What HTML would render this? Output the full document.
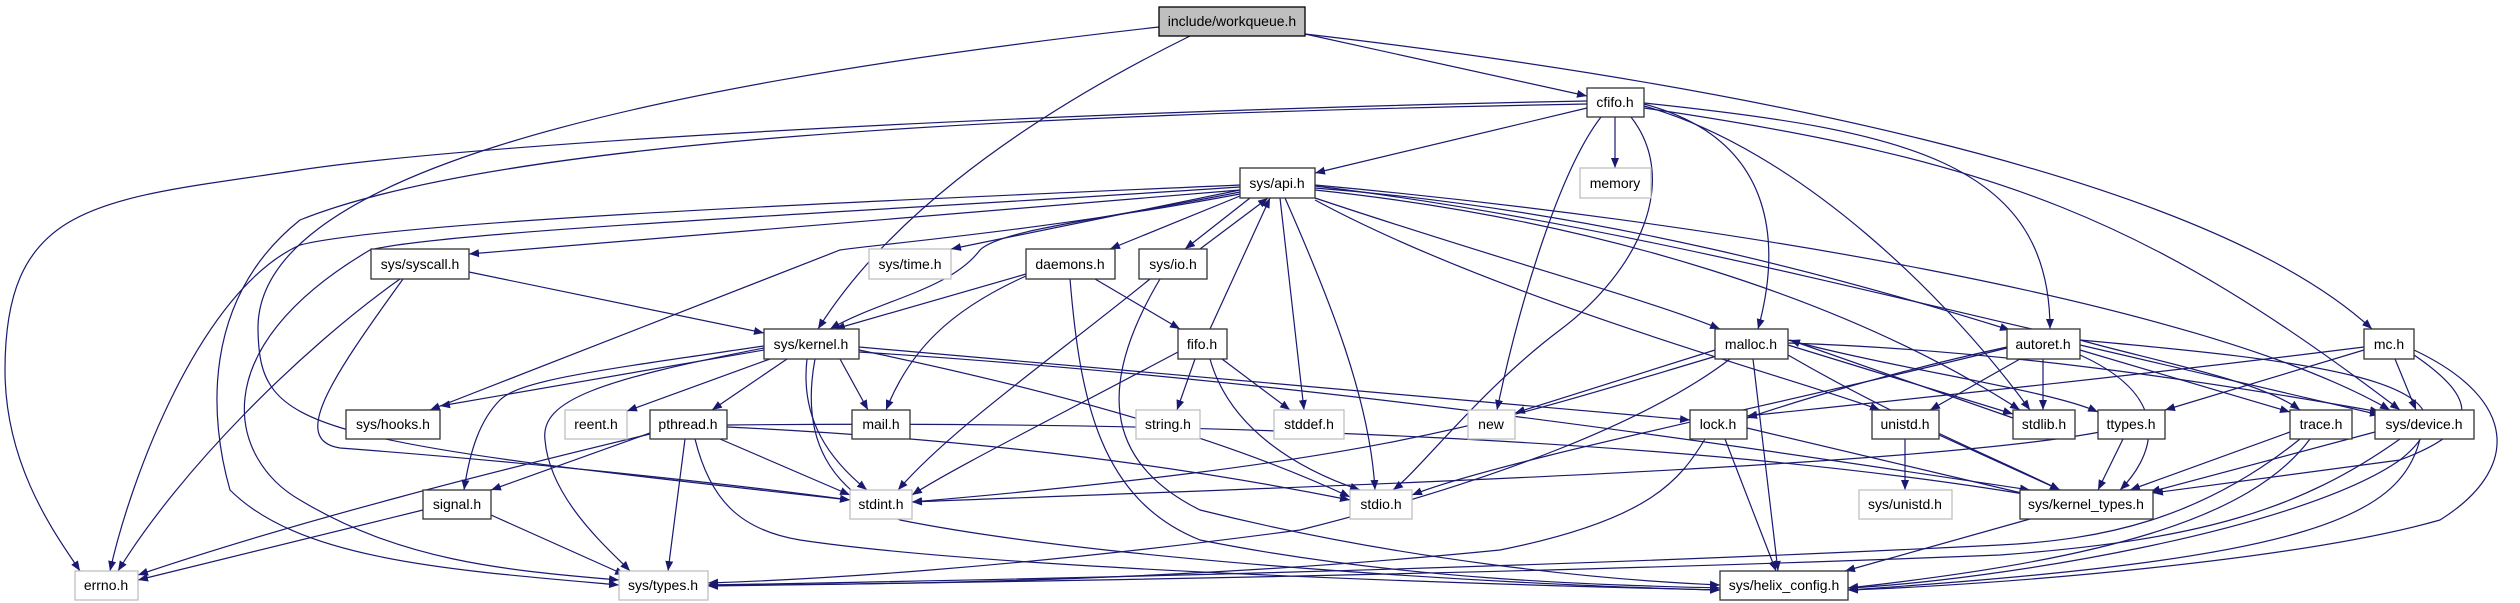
<!DOCTYPE html>
<html><head><meta charset="utf-8"><style>
html,body{margin:0;padding:0;background:#fff;}
svg{display:block;}
text{font-family:"Liberation Sans",sans-serif;font-size:14px;fill:#000;text-anchor:middle;}
.e{fill:none;stroke:#191970;stroke-width:1.2;marker-end:url(#a);}
.n{fill:#fff;stroke:#333;stroke-width:1.3;}
.g{fill:#fff;stroke:#bfbfbf;stroke-width:1.3;}
</style></head><body>
<svg width="2520" height="603" viewBox="0 0 2520 603" xmlns="http://www.w3.org/2000/svg">
<defs><marker id="a" viewBox="0 0 10 10" refX="10" refY="5" markerWidth="10" markerHeight="10" markerUnits="userSpaceOnUse" orient="auto"><path d="M0,1 L10,5 L0,9 z" fill="#191970"/></marker></defs>
<g>
<path class="e" d="M1305,34 L1587,96"/>
<path class="e" d="M1305,34 C1700,80 2200,170 2372,329"/>
<path class="e" d="M1190,36 C1000,130 880,230 818,329"/>
<path class="e" d="M1159,27 C600,90 255,180 258,330 C260,430 300,440 850,500"/>
<path class="e" d="M1587,101 C1100,110 500,140 300,170 C100,200 5,200 5,370 C5,470 60,540 80,571"/>
<path class="e" d="M1587,104 C1000,115 500,140 300,220 C200,300 210,420 230,490 C300,560 450,570 619,585"/>
<path class="e" d="M1587,108 L1315,173"/>
<path class="e" d="M1615,117 L1615,168"/>
<path class="e" d="M1601,117 C1560,170 1520,300 1497,410"/>
<path class="e" d="M1631,117 C1680,180 1640,270 1560,330 C1480,390 1420,470 1393,490"/>
<path class="e" d="M1644,104 C1780,140 1780,250 1758,329"/>
<path class="e" d="M1644,106 C1800,150 1950,300 2030,410"/>
<path class="e" d="M1644,103 C1900,130 2050,160 2050,329"/>
<path class="e" d="M1644,108 C2000,160 2150,220 2400,410"/>
<path class="e" d="M1240,190 L469,254"/>
<path class="e" d="M1240,190 L951,249"/>
<path class="e" d="M1240,196 L1110,249"/>
<path class="e" d="M1250,198 L1185,249"/>
<path class="e" d="M1200,249 L1268,198"/>
<path class="e" d="M1240,192 C1100,220 1000,230 980,250 C950,290 880,300 830,329"/>
<path class="e" d="M1240,194 C1050,230 870,245 840,250 L430,410"/>
<path class="e" d="M1240,185 C900,200 400,220 300,245 C200,290 130,480 110,571"/>
<path class="e" d="M1240,187 C900,210 450,230 370,250 C200,350 230,460 300,500 C400,560 500,570 619,580"/>
<path class="e" d="M1280,198 L1304,410"/>
<path class="e" d="M1285,198 C1330,300 1370,400 1375,490"/>
<path class="e" d="M1315,198 C1500,260 1650,300 1720,329"/>
<path class="e" d="M1315,200 C1500,300 1800,380 1880,410"/>
<path class="e" d="M1315,190 C1600,220 1850,300 2020,410"/>
<path class="e" d="M1315,188 C1600,210 1850,280 2010,330"/>
<path class="e" d="M1315,185 C1700,220 2200,300 2390,410"/>
<path class="e" d="M1315,186 C1600,220 1900,300 2080,340 C2150,360 2260,380 2300,410"/>
<path class="e" d="M469,272 L764,333"/>
<path class="e" d="M400,279 C300,350 180,470 118,571"/>
<path class="e" d="M403,279 C330,380 290,440 340,448 C500,460 700,480 850,500"/>
<path class="e" d="M1026,274 L835,329"/>
<path class="e" d="M1026,276 C950,310 910,350 886,410"/>
<path class="e" d="M1095,279 L1180,329"/>
<path class="e" d="M1070,279 C1080,400 1100,500 1200,540 C1400,580 1600,585 1720,588"/>
<path class="e" d="M1150,279 C1050,360 950,430 898,490"/>
<path class="e" d="M1160,279 C1100,380 1100,460 1200,510 C1400,560 1600,580 1720,585"/>
<path class="e" d="M1210,329 L1270,198"/>
<path class="e" d="M1195,359 L1177,410"/>
<path class="e" d="M1222,359 L1290,410"/>
<path class="e" d="M1210,359 C1230,430 1300,470 1360,490"/>
<path class="e" d="M1178,352 C1050,420 950,470 912,495"/>
<path class="e" d="M764,350 L440,406"/>
<path class="e" d="M770,359 L627,411"/>
<path class="e" d="M787,359 L712,410"/>
<path class="e" d="M840,359 L868,410"/>
<path class="e" d="M807,359 C800,420 830,460 867,490"/>
<path class="e" d="M764,346 C600,370 520,380 500,400 C480,420 470,450 464,490"/>
<path class="e" d="M764,348 C600,380 540,400 545,440 C550,500 610,550 630,571"/>
<path class="e" d="M815,359 C800,440 830,490 900,520 C1100,560 1500,585 1720,590"/>
<path class="e" d="M859,347 L1690,420"/>
<path class="e" d="M859,352 C1300,380 1700,440 2030,490"/>
<path class="e" d="M859,350 C1100,400 1250,450 1350,497"/>
<path class="e" d="M650,433 L491,490"/>
<path class="e" d="M650,434 C500,470 300,520 138,575"/>
<path class="e" d="M685,439 L668,571"/>
<path class="e" d="M720,439 L850,495"/>
<path class="e" d="M727,427 C1000,440 1200,470 1350,500"/>
<path class="e" d="M727,425 C1200,420 1700,440 2030,495"/>
<path class="e" d="M695,439 C710,500 740,530 800,540 C1000,570 1500,585 1720,590"/>
<path class="e" d="M423,510 L138,580"/>
<path class="e" d="M491,515 L625,575"/>
<path class="e" d="M1715,350 L1515,413"/>
<path class="e" d="M1720,355 C1500,420 1400,460 912,502"/>
<path class="e" d="M1730,359 C1650,420 1500,480 1300,530 C1000,570 800,580 708,583"/>
<path class="e" d="M1753,359 L1778,571"/>
<path class="e" d="M1788,345 L2013,414"/>
<path class="e" d="M2013,418 L1790,340"/>
<path class="e" d="M1788,355 C1900,420 2000,460 2060,490"/>
<path class="e" d="M1788,340 C1900,370 2050,390 2098,412"/>
<path class="e" d="M1788,343 C2000,350 2200,380 2380,412"/>
<path class="e" d="M2043,359 L2043,410"/>
<path class="e" d="M2020,359 L1930,410"/>
<path class="e" d="M2007,348 C1800,400 1500,460 1412,495"/>
<path class="e" d="M2007,347 C1900,370 1800,400 1747,418"/>
<path class="e" d="M2080,355 C2180,400 2150,460 2120,490"/>
<path class="e" d="M2080,345 L2380,415"/>
<path class="e" d="M2080,350 L2290,412"/>
<path class="e" d="M2080,340 C2300,360 2500,380 2400,460 C2300,530 2000,580 1848,588"/>
<path class="e" d="M2364,347 C2100,380 1900,400 1747,416"/>
<path class="e" d="M2364,350 L2165,410"/>
<path class="e" d="M2395,359 L2416,410"/>
<path class="e" d="M2414,355 C2480,400 2480,430 2400,460 L2153,493"/>
<path class="e" d="M2414,350 C2520,400 2520,470 2440,520 C2300,560 2000,585 1848,590"/>
<path class="e" d="M2123,439 L2098,490"/>
<path class="e" d="M2100,432 C1900,470 1200,490 912,502"/>
<path class="e" d="M1905,439 L1905,490"/>
<path class="e" d="M1939,435 L2060,490"/>
<path class="e" d="M1747,428 L2030,495"/>
<path class="e" d="M1725,439 L1776,571"/>
<path class="e" d="M1705,439 C1680,480 1650,520 1500,550 C1200,580 900,585 708,585"/>
<path class="e" d="M2290,432 L2130,490"/>
<path class="e" d="M2300,439 C2200,520 2100,540 2000,545 C1500,570 1000,580 708,585"/>
<path class="e" d="M2310,439 C2250,520 2100,560 1848,588"/>
<path class="e" d="M2375,432 L2150,492"/>
<path class="e" d="M2400,439 C2300,510 2200,540 2000,555 C1500,575 1000,582 708,586"/>
<path class="e" d="M2420,439 C2400,520 2300,560 1848,590"/>
<path class="e" d="M2030,519 L1845,571"/>
</g>
<g>
<rect x="1159" y="7" width="146" height="29" fill="#bfbfbf" stroke="#000" stroke-width="1.3"/><text x="1232" y="26">include/workqueue.h</text>
<rect class="n" x="1587" y="88" width="57" height="29"/><text x="1615" y="107">cfifo.h</text>
<rect class="n" x="1240" y="168" width="75" height="30"/><text x="1277" y="188">sys/api.h</text>
<rect class="g" x="1580" y="168" width="71" height="30"/><text x="1615" y="188">memory</text>
<rect class="n" x="371" y="249" width="98" height="30"/><text x="420" y="269">sys/syscall.h</text>
<rect class="g" x="869" y="249" width="82" height="30"/><text x="910" y="269">sys/time.h</text>
<rect class="n" x="1026" y="249" width="89" height="30"/><text x="1070" y="269">daemons.h</text>
<rect class="n" x="1139" y="249" width="68" height="30"/><text x="1173" y="269">sys/io.h</text>
<rect class="n" x="764" y="329" width="95" height="30"/><text x="811" y="349">sys/kernel.h</text>
<rect class="n" x="1178" y="329" width="49" height="30"/><text x="1202" y="349">fifo.h</text>
<rect class="n" x="1715" y="329" width="73" height="30"/><text x="1751" y="349">malloc.h</text>
<rect class="n" x="2007" y="329" width="73" height="30"/><text x="2043" y="349">autoret.h</text>
<rect class="n" x="2364" y="329" width="50" height="30"/><text x="2389" y="349">mc.h</text>
<rect class="n" x="346" y="410" width="94" height="29"/><text x="393" y="429">sys/hooks.h</text>
<rect class="g" x="565" y="410" width="62" height="29"/><text x="596" y="429">reent.h</text>
<rect class="n" x="650" y="410" width="77" height="29"/><text x="688" y="429">pthread.h</text>
<rect class="n" x="852" y="410" width="58" height="29"/><text x="881" y="429">mail.h</text>
<rect class="g" x="1136" y="410" width="64" height="29"/><text x="1168" y="429">string.h</text>
<rect class="g" x="1274" y="410" width="70" height="29"/><text x="1309" y="429">stddef.h</text>
<rect class="g" x="1468" y="410" width="47" height="29"/><text x="1491" y="429">new</text>
<rect class="n" x="1690" y="410" width="57" height="29"/><text x="1718" y="429">lock.h</text>
<rect class="n" x="1872" y="410" width="67" height="29"/><text x="1905" y="429">unistd.h</text>
<rect class="n" x="2013" y="410" width="62" height="29"/><text x="2044" y="429">stdlib.h</text>
<rect class="n" x="2098" y="410" width="67" height="29"/><text x="2131" y="429">ttypes.h</text>
<rect class="n" x="2290" y="410" width="62" height="29"/><text x="2321" y="429">trace.h</text>
<rect class="n" x="2375" y="410" width="99" height="29"/><text x="2424" y="429">sys/device.h</text>
<rect class="n" x="423" y="490" width="68" height="29"/><text x="457" y="509">signal.h</text>
<rect class="g" x="850" y="490" width="62" height="29"/><text x="881" y="509">stdint.h</text>
<rect class="g" x="1350" y="490" width="62" height="29"/><text x="1381" y="509">stdio.h</text>
<rect class="g" x="1859" y="490" width="93" height="29"/><text x="1905" y="509">sys/unistd.h</text>
<rect class="n" x="2020" y="490" width="133" height="29"/><text x="2086" y="509">sys/kernel_types.h</text>
<rect class="g" x="75" y="571" width="63" height="29"/><text x="106" y="590">errno.h</text>
<rect class="g" x="619" y="571" width="89" height="29"/><text x="663" y="590">sys/types.h</text>
<rect class="n" x="1720" y="571" width="128" height="29"/><text x="1784" y="590">sys/helix_config.h</text>
</g>
</svg>
</body></html>
